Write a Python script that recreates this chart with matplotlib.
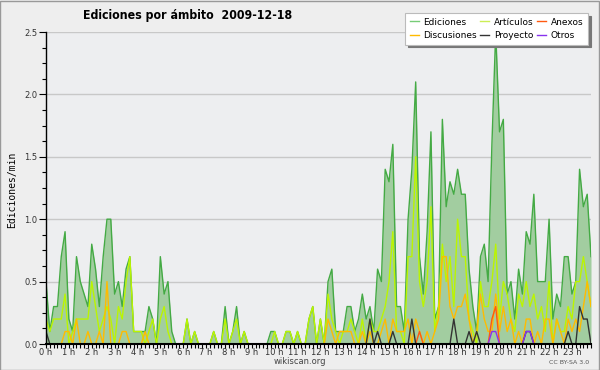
import numpy as np
import matplotlib
matplotlib.use('Agg')
import matplotlib.pyplot as plt
from matplotlib.lines import Line2D
from matplotlib.patches import Rectangle

# Edits per minute, one value every 10 minutes (0:00 .. 23:50).
ediciones = [0.5, 0.1, 0.3, 0.3, 0.7, 0.9, 0.2, 0.1, 0.7, 0.5,
             0.4, 0.3, 0.8, 0.6, 0.3, 0.7, 1.0, 1.0, 0.4, 0.5,
             0.3, 0.6, 0.7, 0.1, 0.1, 0.1, 0.1, 0.3, 0.2, 0.0,
             0.7, 0.4, 0.5, 0.1, 0.0, 0.0, 0.0, 0.2, 0.0, 0.1,
             0.0, 0.0, 0.0, 0.0, 0.1, 0.0, 0.0, 0.3, 0.0, 0.1,
             0.3, 0.0, 0.1, 0.0, 0.0, 0.0, 0.0, 0.0, 0.0, 0.1,
             0.1, 0.0, 0.0, 0.1, 0.1, 0.0, 0.1, 0.0, 0.0, 0.2,
             0.3, 0.0, 0.2, 0.0, 0.5, 0.6, 0.1, 0.1, 0.1, 0.3,
             0.3, 0.1, 0.2, 0.4, 0.2, 0.3, 0.1, 0.6, 0.5, 1.4,
             1.3, 1.6, 0.3, 0.3, 0.1, 1.0, 1.4, 2.1, 0.7, 0.4,
             0.9, 1.7, 0.2, 0.3, 1.8, 1.1, 1.3, 1.2, 1.4, 1.2,
             1.2, 0.6, 0.3, 0.1, 0.7, 0.8, 0.5, 1.6, 2.5, 1.7,
             1.8, 0.4, 0.5, 0.2, 0.6, 0.4, 0.9, 0.8, 1.2, 0.5,
             0.5, 0.5, 1.0, 0.2, 0.4, 0.3, 0.7, 0.7, 0.4, 0.5,
             1.4, 1.1, 1.2, 0.7]

articulos = [0.2, 0.1, 0.2, 0.2, 0.2, 0.4, 0.0, 0.1, 0.2, 0.2,
             0.2, 0.2, 0.5, 0.3, 0.1, 0.2, 0.3, 0.2, 0.0, 0.3,
             0.2, 0.5, 0.7, 0.1, 0.1, 0.1, 0.0, 0.1, 0.2, 0.0,
             0.2, 0.3, 0.1, 0.0, 0.0, 0.0, 0.0, 0.2, 0.0, 0.1,
             0.0, 0.0, 0.0, 0.0, 0.1, 0.0, 0.0, 0.2, 0.0, 0.1,
             0.2, 0.0, 0.1, 0.0, 0.0, 0.0, 0.0, 0.0, 0.0, 0.0,
             0.1, 0.0, 0.0, 0.1, 0.1, 0.0, 0.1, 0.0, 0.0, 0.2,
             0.3, 0.0, 0.2, 0.0, 0.4, 0.2, 0.1, 0.0, 0.1, 0.1,
             0.2, 0.1, 0.0, 0.2, 0.0, 0.2, 0.1, 0.1, 0.2, 0.3,
             0.5, 0.9, 0.1, 0.1, 0.0, 0.7, 0.7, 1.5, 0.5, 0.3,
             0.5, 1.1, 0.1, 0.3, 0.8, 0.5, 0.7, 0.3, 1.0, 0.7,
             0.7, 0.2, 0.1, 0.0, 0.5, 0.3, 0.3, 0.5, 0.8, 0.2,
             0.5, 0.4, 0.2, 0.1, 0.4, 0.3, 0.5, 0.3, 0.4, 0.2,
             0.3, 0.1, 0.5, 0.0, 0.2, 0.1, 0.1, 0.3, 0.2, 0.5,
             0.5, 0.7, 0.5, 0.3]

discusiones = [0.0, 0.0, 0.0, 0.0, 0.0, 0.1, 0.1, 0.0, 0.2, 0.0,
               0.0, 0.1, 0.0, 0.0, 0.1, 0.0, 0.5, 0.0, 0.0, 0.0,
               0.1, 0.1, 0.0, 0.0, 0.0, 0.0, 0.1, 0.0, 0.0, 0.0,
               0.0, 0.0, 0.0, 0.0, 0.0, 0.0, 0.0, 0.0, 0.0, 0.0,
               0.0, 0.0, 0.0, 0.0, 0.0, 0.0, 0.0, 0.0, 0.0, 0.0,
               0.0, 0.0, 0.0, 0.0, 0.0, 0.0, 0.0, 0.0, 0.0, 0.0,
               0.0, 0.0, 0.0, 0.0, 0.0, 0.0, 0.0, 0.0, 0.0, 0.0,
               0.0, 0.0, 0.0, 0.0, 0.2, 0.1, 0.0, 0.1, 0.1, 0.1,
               0.1, 0.0, 0.0, 0.1, 0.0, 0.1, 0.0, 0.0, 0.1, 0.2,
               0.0, 0.2, 0.1, 0.1, 0.1, 0.2, 0.0, 0.2, 0.1, 0.0,
               0.1, 0.0, 0.1, 0.2, 0.7, 0.7, 0.3, 0.2, 0.3, 0.3,
               0.4, 0.2, 0.0, 0.1, 0.4, 0.2, 0.1, 0.1, 0.4, 0.1,
               0.3, 0.1, 0.2, 0.0, 0.1, 0.0, 0.2, 0.2, 0.0, 0.1,
               0.0, 0.2, 0.2, 0.0, 0.2, 0.1, 0.0, 0.2, 0.1, 0.2,
               0.1, 0.3, 0.5, 0.3]

# sparse series: {slot index: value}, zero elsewhere
proyecto_pts = {0: 0.1, 85: 0.2, 87: 0.1, 91: 0.1, 96: 0.2, 107: 0.2,
                111: 0.1, 113: 0.1, 126: 0.1, 127: 0.1, 137: 0.1,
                140: 0.3, 141: 0.2, 142: 0.2}
anexos_pts = {98: 0.1, 117: 0.2, 118: 0.3}
otros_pts = {117: 0.1, 118: 0.1, 126: 0.1, 127: 0.1}

hour_labels = [f'{h} h' for h in range(24)]
y_ticks = [0.0, 0.5, 1.0, 1.5, 2.0, 2.5]

n = len(ediciones)
x = np.arange(n) / 6.0

def sparse(pts):
    s = np.zeros(n)
    for k, v in pts.items():
        s[k] = v
    return s

proyecto = sparse(proyecto_pts)
anexos = sparse(anexos_pts)
otros = sparse(otros_pts)

bg = '#eeeeee'
c_edic = '#44aa44'
c_fill = '#a2cda0'
c_art = '#bbf500'
c_disc = '#ffbb00'
c_proy = '#333333'
c_anex = '#ff5a10'
c_otros = '#8833ee'

fig = plt.figure(figsize=(6, 3.7), dpi=100, facecolor=bg)
ax = fig.add_axes([46/600, 26/370, 545/600, 312/370])
ax.set_facecolor('#edeef0')

ax.fill_between(x, ediciones, 0, color=c_fill, lw=0, zorder=1)
ax.plot(x, ediciones, color=c_edic, lw=1.0, zorder=2)
ax.plot(x, articulos, color=c_art, lw=1.0, zorder=2)
ax.plot(x, discusiones, color=c_disc, lw=1.0, zorder=2)
ax.plot(x, anexos, color=c_anex, lw=1.0, zorder=2)
ax.plot(x, proyecto, color=c_proy, lw=1.0, zorder=2)
ax.plot(x, otros, color=c_otros, lw=1.0, zorder=2)

ax.set_xlim(0, x[-1])
ax.set_ylim(0, 2.5)

ax.set_yticks(y_ticks)
ax.set_yticklabels([f'{v:.1f}' for v in y_ticks])
ax.set_yticks(np.arange(0, 2.5, 0.125), minor=True)
ax.set_xticks(range(24))
ax.set_xticklabels(hour_labels)
ax.set_xticks(x, minor=True)

ax.tick_params(axis='y', which='major', length=5, width=0.8, labelsize=6,
               labelcolor='#333333', pad=1)
ax.tick_params(axis='y', which='minor', length=3, width=0.8)
ax.tick_params(axis='x', which='both', length=3, width=0.8, labelsize=6,
               labelcolor='#333333', pad=0)

ax.grid(axis='y', which='major', color='#c8c8c8', lw=1.0)
ax.set_axisbelow(True)
for s in ['top', 'right']:
    ax.spines[s].set_visible(False)
ax.spines['left'].set_linewidth(1.0)
ax.spines['bottom'].set_linewidth(1.5)

fig.text(188/600, 1 - 15/370, 'Ediciones por ámbito  2009-12-18', ha='center', va='center',
         fontsize=8.8, fontweight='bold', fontstretch='condensed', family='DejaVu Sans')
fig.text(12/600, 1 - 190/370, 'Ediciones/min', rotation=90, ha='center', va='center',
         fontsize=7, family='DejaVu Sans Mono')
fig.text(0.5, 1 - 362/370, 'wikiscan.org', ha='center', va='center', fontsize=6, color='#444444')
fig.text(569/600, 1 - 362/370, 'CC BY-SA 3.0', ha='center', va='center', fontsize=4.5, color='#555555')

handles = [Line2D([], [], color='#77cc77', lw=1),
           Line2D([], [], color=c_disc, lw=1),
           Line2D([], [], color='#ccee55', lw=1),
           Line2D([], [], color=c_proy, lw=1),
           Line2D([], [], color=c_anex, lw=1),
           Line2D([], [], color=c_otros, lw=1)]
labels = ['Ediciones', 'Discusiones', 'Artículos', 'Proyecto', 'Anexos', 'Otros']
leg = fig.legend(handles, labels, ncol=3, loc='upper left', bbox_to_anchor=(405/600, 1 - 13/370),
                 borderaxespad=0, fontsize=6.5, frameon=True, fancybox=False, framealpha=1,
                 facecolor='white', edgecolor='#bbbbbb', handlelength=1.0,
                 handletextpad=0.5, columnspacing=0.4, labelspacing=0.5, borderpad=0.5,
                 shadow={'color': '#777777', 'alpha': 1})
leg.get_frame().set_linewidth(0.8)

# outer border of the image
fig.patches.append(Rectangle((0.0008, 0.0013), 0.998, 0.997, transform=fig.transFigure,
                             fill=False, edgecolor='#999999', lw=1))

fig.savefig('out.png', dpi=100, facecolor=bg)
